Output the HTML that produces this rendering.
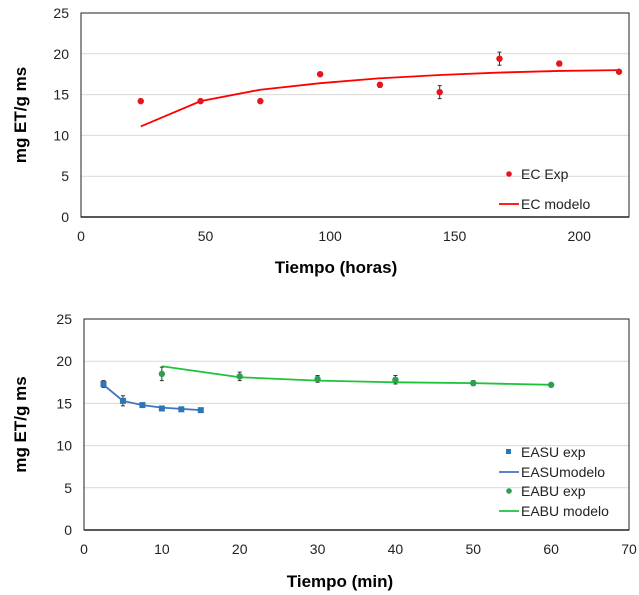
<!DOCTYPE html>
<html><head><meta charset="utf-8"><style>
body{margin:0;background:#fff;}
svg{display:block;font-family:"Liberation Sans",Arial,sans-serif;}
</style></head><body>
<svg id="s" width="639" height="595"></svg>
<script>
const ecX=[24,48,72,96,120,144,168,192,216];
const ecY=[14.2,14.2,14.2,17.5,16.2,15.3,19.4,18.8,17.8];
const ecErr=[0.2,0.2,0.2,0.2,0.3,0.8,0.8,0.3,0.2];
const ecModel=[11.1,14.2,15.6,16.4,17.0,17.4,17.7,17.9,18.0];
const topXTicks=[0,50,100,150,200];
const yTicks=[0,5,10,15,20,25];
const suX=[2.5,5,7.5,10,12.5,15];
const suY=[17.3,15.3,14.8,14.4,14.3,14.2];
const suErr=[0.4,0.6,0.2,0.2,0.1,0.1];
const suModel=[17.2,15.3,14.8,14.5,14.35,14.2];
const buX=[10,20,30,40,50,60];
const buY=[18.5,18.2,17.9,17.8,17.4,17.2];
const buErr=[0.8,0.5,0.4,0.5,0.3,0.1];
const buModel=[19.4,18.1,17.7,17.5,17.4,17.2];
const botXTicks=[0,10,20,30,40,50,60,70];

const svg=document.getElementById('s');const NS='http://www.w3.org/2000/svg';
function el(t,a,p){const e=document.createElementNS(NS,t);for(const k in a)e.setAttribute(k,a[k]);(p||svg).appendChild(e);return e;}
function txt(s,a,p){const e=el('text',a,p);e.textContent=s;return e;}
function chart(o){
  const g=el('g',{});
  
  
  const sx=v=>o.L+(v-o.xmin)/(o.xmax-o.xmin)*(o.R-o.L);
  const sy=v=>o.B-v/25*(o.B-o.T);
  yTicks.forEach(t=>{
    if(t>0&&t<25){const l=el('line',{x1:o.L,x2:o.R,y1:sy(t),y2:sy(t),stroke:'#d9d9d9','stroke-width':1},g);
    }
    const tl=txt(t,{x:o.L-12,y:sy(t)+5,'text-anchor':'end','font-size':14,fill:'#222'},g);
    
  });
  o.xt.forEach(t=>{const tl=txt(t,{x:sx(t),y:o.B+24,'text-anchor':'middle','font-size':14,fill:'#222'},g);
    });
  const fr=el('rect',{x:o.L,y:o.T,width:o.R-o.L,height:o.B-o.T,fill:'none',stroke:'#222','stroke-width':1},g);
  
  const ax=el('line',{x1:o.L,x2:o.R,y1:o.B,y2:o.B,stroke:'#222','stroke-width':1.5},g);
  
  const yt=txt('mg ET/g ms',{x:0,y:0,transform:`translate(${o.yx},${(o.T+o.B)/2}) rotate(-90)`,'text-anchor':'middle','font-size':17,'font-weight':'bold'},g);
  
  const xt=txt(o.xtitle,{x:o.xtx,y:o.xty,'text-anchor':'middle','font-size':17,'font-weight':'bold'},g);
  
  o.series.forEach(s=>{
    const pl=el('polyline',{points:s.x.map((v,i)=>sx(v)+','+sy(s.m[i])).join(' '),fill:'none',stroke:s.lc,'stroke-width':1.8},g);
    
    s.x.forEach((v,i)=>{
      const e1=el('path',{d:`M${sx(v)},${sy(s.y[i]-s.e[i])}V${sy(s.y[i]+s.e[i])}M${sx(v)-2},${sy(s.y[i]-s.e[i])}h4M${sx(v)-2},${sy(s.y[i]+s.e[i])}h4`,stroke:'#333','stroke-width':1,fill:'none'},g);
      
      let m;
      if(s.sq)m=el('rect',{x:sx(v)-3,y:sy(s.y[i])-3,width:6,height:6,fill:s.mc},g);
      else m=el('circle',{cx:sx(v),cy:sy(s.y[i]),r:3.2,fill:s.mc},g);
      
    });
  });
  o.legend.forEach(l=>{
    const lg=el('g',{},g);
    
    if(l.t==='line')el('line',{x1:l.x-22,x2:l.x-2,y1:l.y,y2:l.y,stroke:l.c,'stroke-width':1.8},lg);
    else if(l.t==='sq')el('rect',{x:l.x-15,y:l.y-3,width:5,height:5,fill:l.c},lg);
    else el('circle',{cx:l.x-12,cy:l.y,r:2.8,fill:l.c},lg);
    txt(l.s,{x:l.x,y:l.y+5,'font-size':14,fill:'#222'},lg);
  });
}
chart({name:'ec-chart',L:81,R:629,T:13,B:217,xmin:0,xmax:220,xt:topXTicks,yx:26,xtitle:'Tiempo (horas)',xtx:336,xty:273,
  series:[{n:'ec',x:ecX,y:ecY,e:ecErr,m:ecModel,lc:'#ff0000',mc:'#e8141c',sq:false}],
  legend:[{t:'dot',c:'#e8141c',x:521,y:174,s:'EC Exp'},{t:'line',c:'#ff0000',x:521,y:204,s:'EC modelo'}]});
chart({name:'extraction-chart',L:84,R:629,T:319,B:530,xmin:0,xmax:70,xt:botXTicks,yx:26,xtitle:'Tiempo (min)',xtx:340,xty:587,
  series:[{n:'easu',x:suX,y:suY,e:suErr,m:suModel,lc:'#4472c4',mc:'#2e75b6',sq:true},
          {n:'eabu',x:buX,y:buY,e:buErr,m:buModel,lc:'#1cc33a',mc:'#2e9e4f',sq:false}],
  legend:[{t:'sq',c:'#2e75b6',x:521,y:452,s:'EASU exp'},{t:'line',c:'#4472c4',x:521,y:472,s:'EASUmodelo'},
          {t:'dot',c:'#2e9e4f',x:521,y:491,s:'EABU exp'},{t:'line',c:'#1cc33a',x:521,y:511,s:'EABU modelo'}]});
</script>
</body></html>
